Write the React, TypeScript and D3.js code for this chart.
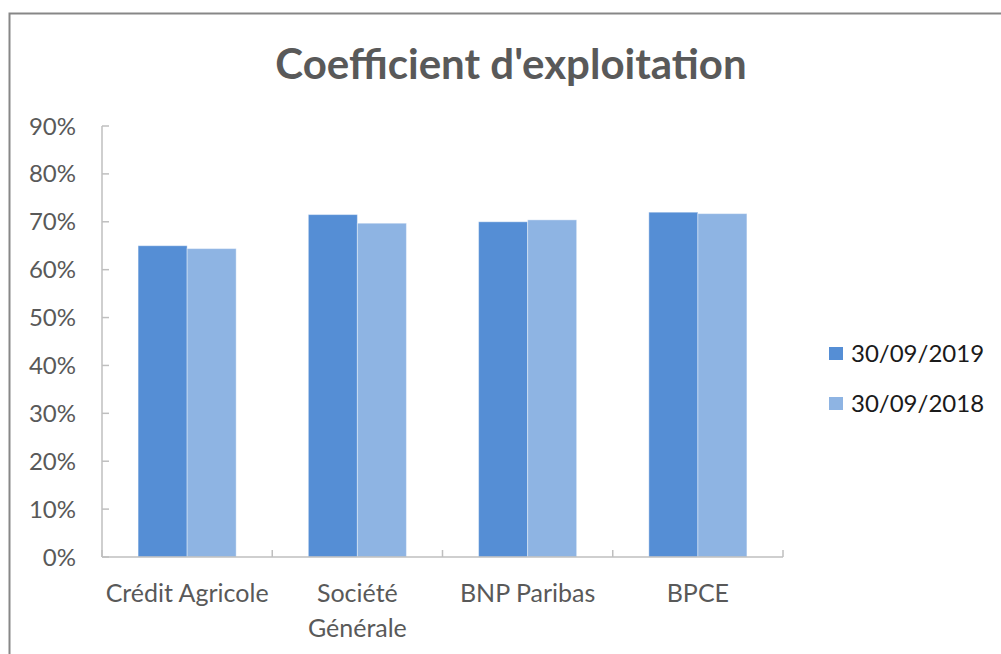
import React from "react";
import * as d3 from "d3";

const categories: string[][] = [["Crédit Agricole"], ["Société", "Générale"], ["BNP Paribas"], ["BPCE"]];
const series = ["30/09/2019", "30/09/2018"];
const values2019 = [65.0, 71.5, 70.0, 72.0];
const values2018 = [64.4, 69.7, 70.4, 71.7];
const yTicks = [0, 10, 20, 30, 40, 50, 60, 70, 80, 90];
const colors = ["#558ED5", "#8EB4E3"];

const W = 1001, H = 654;
const FONT = "Lato, 'Open Sans', sans-serif";

export default function App() {
  const x0 = d3.scaleBand<number>().domain(d3.range(categories.length)).range([102, 783]).paddingInner(0.424).paddingOuter(0.212);
  const x1 = d3.scaleBand<number>().domain([0, 1]).range([0, x0.bandwidth()]);
  const y = d3.scaleLinear().domain([0, 90]).range([557, 126]);
  const step = (783 - 102) / categories.length;
  const data = [values2019, values2018];
  return (
    <svg width={W} height={H} style={{ position: "absolute", left: 0, top: 0, background: "#fff" }}>
      <rect x={0} y={0} width={W} height={H} fill="#fff" />
      <path d={`M9.5,${H} V13.5 H${W}`} fill="none" stroke="#878787" strokeWidth={2} />
      <text x={511} y={79} textAnchor="middle" fontFamily={FONT} fontWeight="bold" fontSize={42} fill="#595959">
        Coefficient d'exploitation
      </text>
      {/* y axis */}
      <line x1={102} x2={102} y1={y(90)} y2={y(0)} stroke="#BFBFBF" strokeWidth={1.5} />
      {yTicks.map((t) => (
        <g key={t}>
          <line x1={102} x2={109} y1={y(t)} y2={y(t)} stroke="#BFBFBF" strokeWidth={1.5} />
          <text x={76} y={y(t) + 8.5} textAnchor="end" fontFamily={FONT} fontSize={24} fill="#595959">
            {t}%
          </text>
        </g>
      ))}
      {/* bars */}
      {data.map((vals, s) =>
        vals.map((v, i) => (
          <rect
            key={`${s}-${i}`}
            x={(x0(i) ?? 0) + (x1(s) ?? 0)}
            y={y(v)}
            width={x1.bandwidth()}
            height={y(0) - y(v)}
            fill={colors[s]}
            stroke="#ffffff"
            strokeOpacity={0.4}
            strokeWidth={1}
          />
        ))
      )}
      {/* x axis */}
      <line x1={102} x2={783} y1={557} y2={557} stroke="#BFBFBF" strokeWidth={1.5} />
      {d3.range(categories.length + 1).map((i) => (
        <line key={i} x1={102 + i * step} x2={102 + i * step} y1={557} y2={550} stroke="#BFBFBF" strokeWidth={1.5} />
      ))}
      {categories.map((lines, i) => (
        <text key={i} textAnchor="middle" fontFamily={FONT} fontSize={25} fill="#595959">
          {lines.map((l, k) => (
            <tspan key={k} x={(x0(i) ?? 0) + x0.bandwidth() / 2} y={602 + k * 35}>
              {l}
            </tspan>
          ))}
        </text>
      ))}
      {/* legend */}
      {series.map((s, i) => (
        <g key={s}>
          <rect x={829} y={347 + i * 50} width={14} height={13} fill={colors[i]} />
          <text x={851} y={362 + i * 50} fontFamily={FONT} fontSize={24} fill="#1a1a1a">
            {s}
          </text>
        </g>
      ))}
    </svg>
  );
}
